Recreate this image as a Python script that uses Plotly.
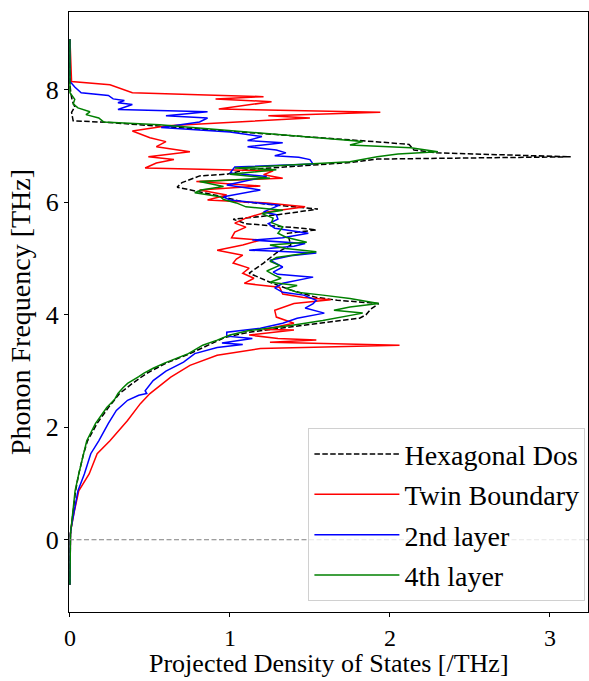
import plotly.graph_objects as go

# ---- data (frequency in THz, DOS in 1/THz) ----
freq_hex = [-0.8, 0, 0.1, 0.2, 0.3, 0.5, 0.87, 1.17, 1.53, 1.76, 2.07, 2.35, 2.6, 2.78, 2.96, 3.14, 3.31, 3.49, 3.6,
            3.69, 3.78, 3.87, 3.94, 4.0, 4.1, 4.2, 4.26, 4.31, 4.44, 4.58, 4.74, 4.92, 5.1, 5.24, 5.45,
            5.51, 5.54, 5.62, 5.7, 5.78, 5.88, 5.95, 6.01, 6.12, 6.19, 6.27, 6.35, 6.47, 6.5, 6.58, 6.62,
            6.67, 6.71, 6.77, 6.81, 6.88, 6.93, 7.03, 7.07, 7.42, 7.45, 7.6, 7.7, 7.8, 7.95, 8.1, 8.9]
dos_hex = [0, 0, 0.003, 0.007, 0.012, 0.02, 0.035, 0.055, 0.085, 0.11, 0.17, 0.24, 0.31, 0.39, 0.48, 0.6, 0.75, 0.89, 0.97,
           1.12, 1.38, 1.62, 1.81, 1.85, 1.88, 1.93, 1.67, 1.54, 1.38, 1.25, 1.12, 1.21, 1.29, 1.38, 1.36,
           1.54, 1.45, 1.1, 1.02, 1.3, 1.55, 1.3, 1.08, 0.92, 0.8, 0.67, 0.7, 0.81, 0.98, 1.1, 1.3,
           1.54, 1.76, 1.92, 3.13, 2.29, 2.15, 2.12, 1.95, 0.24, 0.02, 0.01, 0.03, 0.015, 0.005, 0, 0]

freq_twin = [-0.8, 0, 0.1, 0.2, 0.3, 0.5, 0.87, 1.17, 1.53, 1.76, 2.12, 2.42, 2.6, 2.89, 3.1, 3.28, 3.4, 3.46, 3.51,
             3.55, 3.58, 3.64, 3.73, 3.74, 3.85, 3.92, 3.96, 4.08, 4.2, 4.27, 4.31, 4.37, 4.49, 4.56, 4.65,
             4.74, 4.83, 4.92, 4.99, 5.06, 5.15, 5.24, 5.33, 5.37, 5.47, 5.56, 5.63, 5.72, 5.83, 5.92, 5.99,
             6.04, 6.13, 6.22, 6.29, 6.37, 6.43, 6.49, 6.56, 6.61, 6.7, 6.76, 6.81, 6.9, 6.99, 7.08, 7.15,
             7.27, 7.36, 7.5, 7.54, 7.6, 7.66, 7.79, 7.84, 7.88, 7.95, 8.09, 8.15, 8.9]
dos_twin = [0, 0, 0.003, 0.007, 0.013, 0.027, 0.055, 0.12, 0.17, 0.25, 0.36, 0.44, 0.5, 0.63, 0.75, 0.92, 1.19, 2.06, 1.25,
            1.54, 1.3, 1.12, 1.4, 1.21, 1.4, 1.33, 1.29, 1.28, 1.4, 1.63, 1.46, 1.33, 1.31, 1.09, 1.15,
            1.08, 1.12, 1.02, 1.04, 1.08, 0.92, 1.08, 1.19, 1.01, 1.03, 1.1, 1.03, 1.1, 1.23, 1.47, 1.23,
            0.86, 0.98, 0.81, 1.19, 0.79, 1.33, 1.21, 1.27, 0.47, 0.54, 0.65, 0.49, 0.75, 0.54, 0.6, 0.5,
            0.39, 0.61, 1.5, 1.24, 1.94, 0.93, 1.26, 0.91, 1.21, 0.39, 0.25, 0.01, 0]

freq_2nd = [-0.8, 0, 0.1, 0.2, 0.3, 0.5, 0.87, 1.17, 1.53, 1.76, 2.07, 2.3, 2.48, 2.57, 2.6, 2.65, 2.83, 3.0, 3.16,
            3.31, 3.42, 3.47, 3.5, 3.58, 3.62, 3.69, 3.76, 3.85, 3.94, 4.03, 4.12, 4.2, 4.26, 4.35, 4.4,
            4.48, 4.56, 4.67, 4.72, 4.76, 4.85, 4.97, 5.05, 5.1, 5.15, 5.22, 5.27, 5.33, 5.37, 5.45, 5.54,
            5.62, 5.7, 5.78, 5.83, 5.95, 6.04, 6.1, 6.22, 6.31, 6.46, 6.52, 6.63, 6.68, 6.76, 6.8, 6.83,
            6.88, 6.93, 6.99, 7.06, 7.1, 7.17, 7.25, 7.33, 7.43, 7.5, 7.54, 7.61, 7.65, 7.74, 7.77, 7.81,
            7.84, 7.9, 7.95, 8.05, 8.15, 8.9]
dos_2nd = [0, 0, 0.003, 0.007, 0.012, 0.026, 0.05, 0.09, 0.13, 0.18, 0.24, 0.29, 0.36, 0.43, 0.48, 0.47, 0.52, 0.6, 0.71,
           0.78, 0.92, 1.08, 0.95, 1.14, 0.98, 0.98, 1.19, 1.33, 1.42, 1.59, 1.47, 1.52, 1.54, 1.46, 1.33,
           1.28, 1.33, 1.52, 1.3, 1.27, 1.33, 1.25, 1.38, 1.54, 1.12, 1.4, 1.47, 1.14, 1.33, 1.49, 1.28,
           1.24, 1.3, 1.29, 1.21, 1.31, 1.0, 0.96, 1.19, 0.98, 1.23, 1.0, 1.03, 1.52, 1.5, 1.43, 1.28,
           1.35, 1.29, 1.11, 1.33, 1.11, 1.2, 1.0, 0.57, 0.81, 0.86, 0.6, 0.86, 0.3, 0.39, 0.3, 0.34,
           0.27, 0.24, 0.07, 0.03, 0.0, 0]

freq_4th = [-0.8, 0, 0.1, 0.2, 0.3, 0.5, 0.87, 1.17, 1.53, 1.76, 2.07, 2.35, 2.5, 2.6, 2.7, 2.78, 2.9, 2.96, 3.05,
            3.14, 3.31, 3.46, 3.55, 3.64, 3.72, 3.81, 3.9, 3.96, 4.03, 4.08, 4.14, 4.2, 4.29, 4.35, 4.4,
            4.47, 4.52, 4.58, 4.65, 4.7, 4.78, 4.88, 4.95, 5.02, 5.12, 5.18, 5.24, 5.29, 5.38, 5.45, 5.56,
            5.64, 5.72, 5.8, 5.86, 5.92, 5.99, 6.05, 6.1, 6.17, 6.22, 6.28, 6.37, 6.43, 6.5, 6.58, 6.61,
            6.65, 6.72, 6.81, 6.86, 6.9, 6.97, 7.02, 7.08, 7.38, 7.43, 7.5, 7.56, 7.61, 7.68, 7.75, 7.83,
            7.95, 8.9]
dos_4th = [0, 0, 0.003, 0.007, 0.011, 0.02, 0.032, 0.055, 0.085, 0.105, 0.16, 0.23, 0.28, 0.3, 0.33, 0.36, 0.43, 0.46, 0.52,
           0.59, 0.74, 0.83, 0.92, 1.0, 1.12, 1.38, 1.58, 1.69, 1.83, 1.65, 1.75, 1.93, 1.75, 1.58, 1.42,
           1.35, 1.42, 1.25, 1.32, 1.28, 1.23, 1.31, 1.25, 1.29, 1.54, 1.35, 1.25, 1.48, 1.35, 1.3, 1.33,
           1.26, 1.27, 1.2, 1.33, 1.1, 1.04, 0.96, 0.94, 0.78, 0.82, 0.96, 0.81, 1.25, 1.0, 1.29, 1.03,
           1.29, 1.75, 1.92, 2.05, 2.3, 2.13, 1.75, 1.83, 0.56, 0.21, 0.18, 0.1, 0.125, 0.05, 0.02, 0.03,
           0.0, 0]

series = [
    ("Hexagonal Dos", freq_hex, dos_hex, "black", "5.5px,2.4px"),
    ("Twin Boundary", freq_twin, dos_twin, "red", "solid"),
    ("2nd layer", freq_2nd, dos_2nd, "blue", "solid"),
    ("4th layer", freq_4th, dos_4th, "green", "solid"),
]

FONT = "Liberation Serif, Times New Roman, serif"
FS = 28

fig = go.Figure()
for i, (name, f, d, col, dash) in enumerate(series):
    fig.add_trace(go.Scatter(x=d, y=f, mode="lines", name=name, legendgroup=f"g{i}",
                             line=dict(color=col, width=1.5, dash=dash)))

fig.add_shape(type="line", xref="paper", yref="y", x0=0, x1=1, y0=0, y1=0,
              line=dict(color="gray", width=1, dash="5px,2.5px"), layer="above")

axis_common = dict(showline=True, linecolor="black", linewidth=1, mirror=True, ticks="outside",
                   ticklen=4, tickcolor="black", showgrid=False, zeroline=False)

fig.update_layout(
    width=589, height=681,
    margin=dict(l=69, r=1, t=12, b=69),
    paper_bgcolor="white", plot_bgcolor="white",
    font=dict(family=FONT, size=FS, color="black"),
    xaxis=dict(range=[-0.006, 3.238], tickvals=[0, 1, 2, 3],
               tickfont=dict(family=FONT, size=24, color="black"), **axis_common),
    yaxis=dict(range=[-1.285, 9.385], tickvals=[0, 2, 4, 6, 8],
               tickfont=dict(family=FONT, size=26, color="black"),
               title=dict(text="Phonon Frequency [THz]", font=dict(family=FONT, size=FS), standoff=6),
               **axis_common),
    legend=dict(x=0.995, y=0.018, xanchor="right", yanchor="bottom",
                bgcolor="rgba(255,255,255,0.8)", bordercolor="#d0d0d0", borderwidth=1,
                font=dict(family=FONT, size=FS), tracegroupgap=1, itemwidth=85),
    showlegend=True,
    annotations=[dict(text="Projected Density of States [/THz]", xref="paper", yref="paper",
                      x=0.5, y=-0.113, xanchor="center", yanchor="bottom", showarrow=False,
                      font=dict(family=FONT, size=26, color="black"))],
)

fig.write_html("out.html")
